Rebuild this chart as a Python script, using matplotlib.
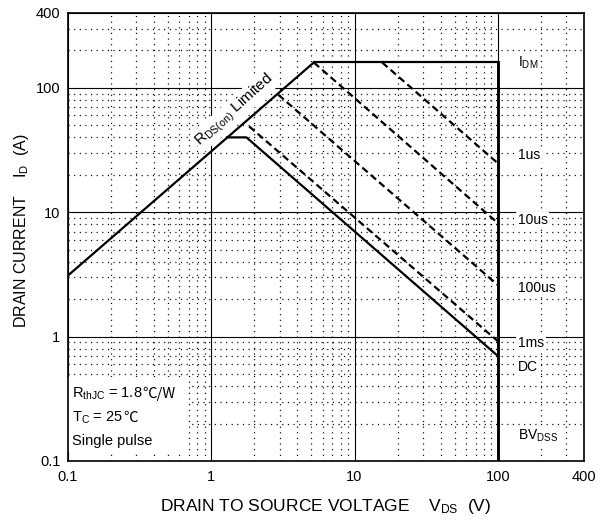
import matplotlib
matplotlib.use("Agg")
import matplotlib.pyplot as plt
from matplotlib.ticker import LogLocator, NullFormatter, FixedLocator, FixedFormatter
from matplotlib.patches import Rectangle

plt.rcParams['font.family'] = ['Liberation Sans', 'DejaVu Sans']
plt.rcParams['mathtext.fontset'] = 'custom'
plt.rcParams['mathtext.rm'] = 'Liberation Sans'
plt.rcParams['mathtext.it'] = 'Liberation Sans'
plt.rcParams['mathtext.bf'] = 'Liberation Sans:bold'

# ---- data ----
x_ticks = [0.1, 1, 10, 100, 400]
x_tick_labels = ["0.1", "1", "10", "100", "400"]
y_ticks = [0.1, 1, 10, 100, 400]
y_tick_labels = ["0.1", "1", "10", "100", "400"]

rds_vds = [0.1, 5.2]
rds_id = [3.1, 160]
idm_vds = [5.2, 100]
idm_id = [160, 160]
bv_vds = [100, 100]
bv_id = [160, 0.1]
dc_vds = [1.29, 1.76, 100]
dc_id = [40, 40, 0.70]
ms1_vds = [1.84, 100]
ms1_id = [49, 0.92]
us100_vds = [2.94, 100]
us100_id = [88, 2.6]
us10_vds = [5.2, 100]
us10_id = [160, 8.2]
us1_vds = [15.6, 100]
us1_id = [160, 24.8]

label_x = 138
label_names = ["I$_{\\rm DM}$", "1us", "10us", "100us", "1ms", "DC", "BV$_{\\rm DSS}$"]
label_y = [160, 28.7, 8.6, 2.47, 0.89, 0.575, 0.158]

W, H = 611, 522
fig = plt.figure(figsize=(W/100, H/100), dpi=100)
ax = fig.add_axes([68/W, 1-461/H, (584-68)/W, (461-13)/H])
ax.set_xscale('log')
ax.set_yscale('log')
ax.set_xlim(0.1, 400)
ax.set_ylim(0.1, 400)
ax.set_axisbelow(True)

ax.xaxis.set_major_locator(FixedLocator(x_ticks))
ax.xaxis.set_major_formatter(FixedFormatter(x_tick_labels))
ax.yaxis.set_major_locator(FixedLocator(y_ticks))
ax.yaxis.set_major_formatter(FixedFormatter(y_tick_labels))
ax.xaxis.set_minor_locator(LogLocator(base=10, subs=range(2, 10), numticks=20))
ax.yaxis.set_minor_locator(LogLocator(base=10, subs=range(2, 10), numticks=20))
ax.xaxis.set_minor_formatter(NullFormatter())
ax.yaxis.set_minor_formatter(NullFormatter())
ax.tick_params(which='both', length=0)
ax.tick_params(axis='x', pad=6.5, labelsize=10.5)
ax.tick_params(axis='y', pad=5.5, labelsize=10.5)

ax.grid(which='major', color='black', lw=0.8, ls='-')
ax.grid(which='minor', color='black', lw=0.9, ls=(0, (0.9, 3.6)))
for s in ax.spines.values():
    s.set_linewidth(1.2)

lw = 1.6
ax.plot(rds_vds, rds_id, color='black', lw=lw, zorder=3)
ax.plot(idm_vds, idm_id, color='black', lw=lw, zorder=3)
ax.plot(bv_vds, bv_id, color='black', lw=2.1, zorder=3)
ax.plot(dc_vds, dc_id, color='black', lw=lw, zorder=3)
dash = (0, (3.2, 1.8))
for vx, vy in [(ms1_vds, ms1_id), (us100_vds, us100_id), (us10_vds, us10_id), (us1_vds, us1_id)]:
    ax.plot(vx, vy, color='black', lw=lw, ls=dash, zorder=3)

for name, yv in zip(label_names, label_y):
    ax.text(label_x, yv, name, ha='left', va='center', fontsize=10, zorder=1,
            bbox=dict(boxstyle='square,pad=0.12', fc='white', ec='none'))

ax.text(1.45, 66, "R$_{\\rm DS(on)}$ Limited", rotation=42, rotation_mode='anchor',
        ha='center', va='center', fontsize=11, zorder=1,
        bbox=dict(boxstyle='square,pad=0.1', fc='white', ec='none'))

# white box behind the notes
ax.add_patch(Rectangle((0, 9/448), (188-68)/516, (461-377-9)/448,
                       transform=ax.transAxes, fc='white', ec='none', zorder=1))
note_main = ["R$_{\\rm thJC}$ = 1.8", "T$_{\\rm C}$ = 25", "Single pulse"]
note_unit = ["℃/W", "℃", ""]
note_base_px = [398, 421.5, 444.5]
for t, u, yb in zip(note_main, note_unit, note_base_px):
    yax = (461-yb)/448
    t1 = ax.text((72-68)/516, yax, t, ha='left', va='baseline', fontsize=10.5,
                 transform=ax.transAxes, zorder=1.2)
    if u:
        ax.annotate(u, xy=(1, yax), xycoords=(t1, 'axes fraction'),
                    ha='left', va='baseline', fontsize=10.5, zorder=1.2,
                    family=['Noto Sans CJK SC', 'DejaVu Sans'], fontweight='light')

fig.text(21.5/W, 1-230.5/H, "DRAIN CURRENT    I$_{\\rm D}$  (A)", rotation=90,
         ha='center', va='center', fontsize=11.5)
fig.text(326/W, 1-507/H, "DRAIN TO SOURCE VOLTAGE    V$_{\\rm DS}$  (V)",
         ha='center', va='center', fontsize=12.5)

fig.savefig("out.png", dpi=100)
